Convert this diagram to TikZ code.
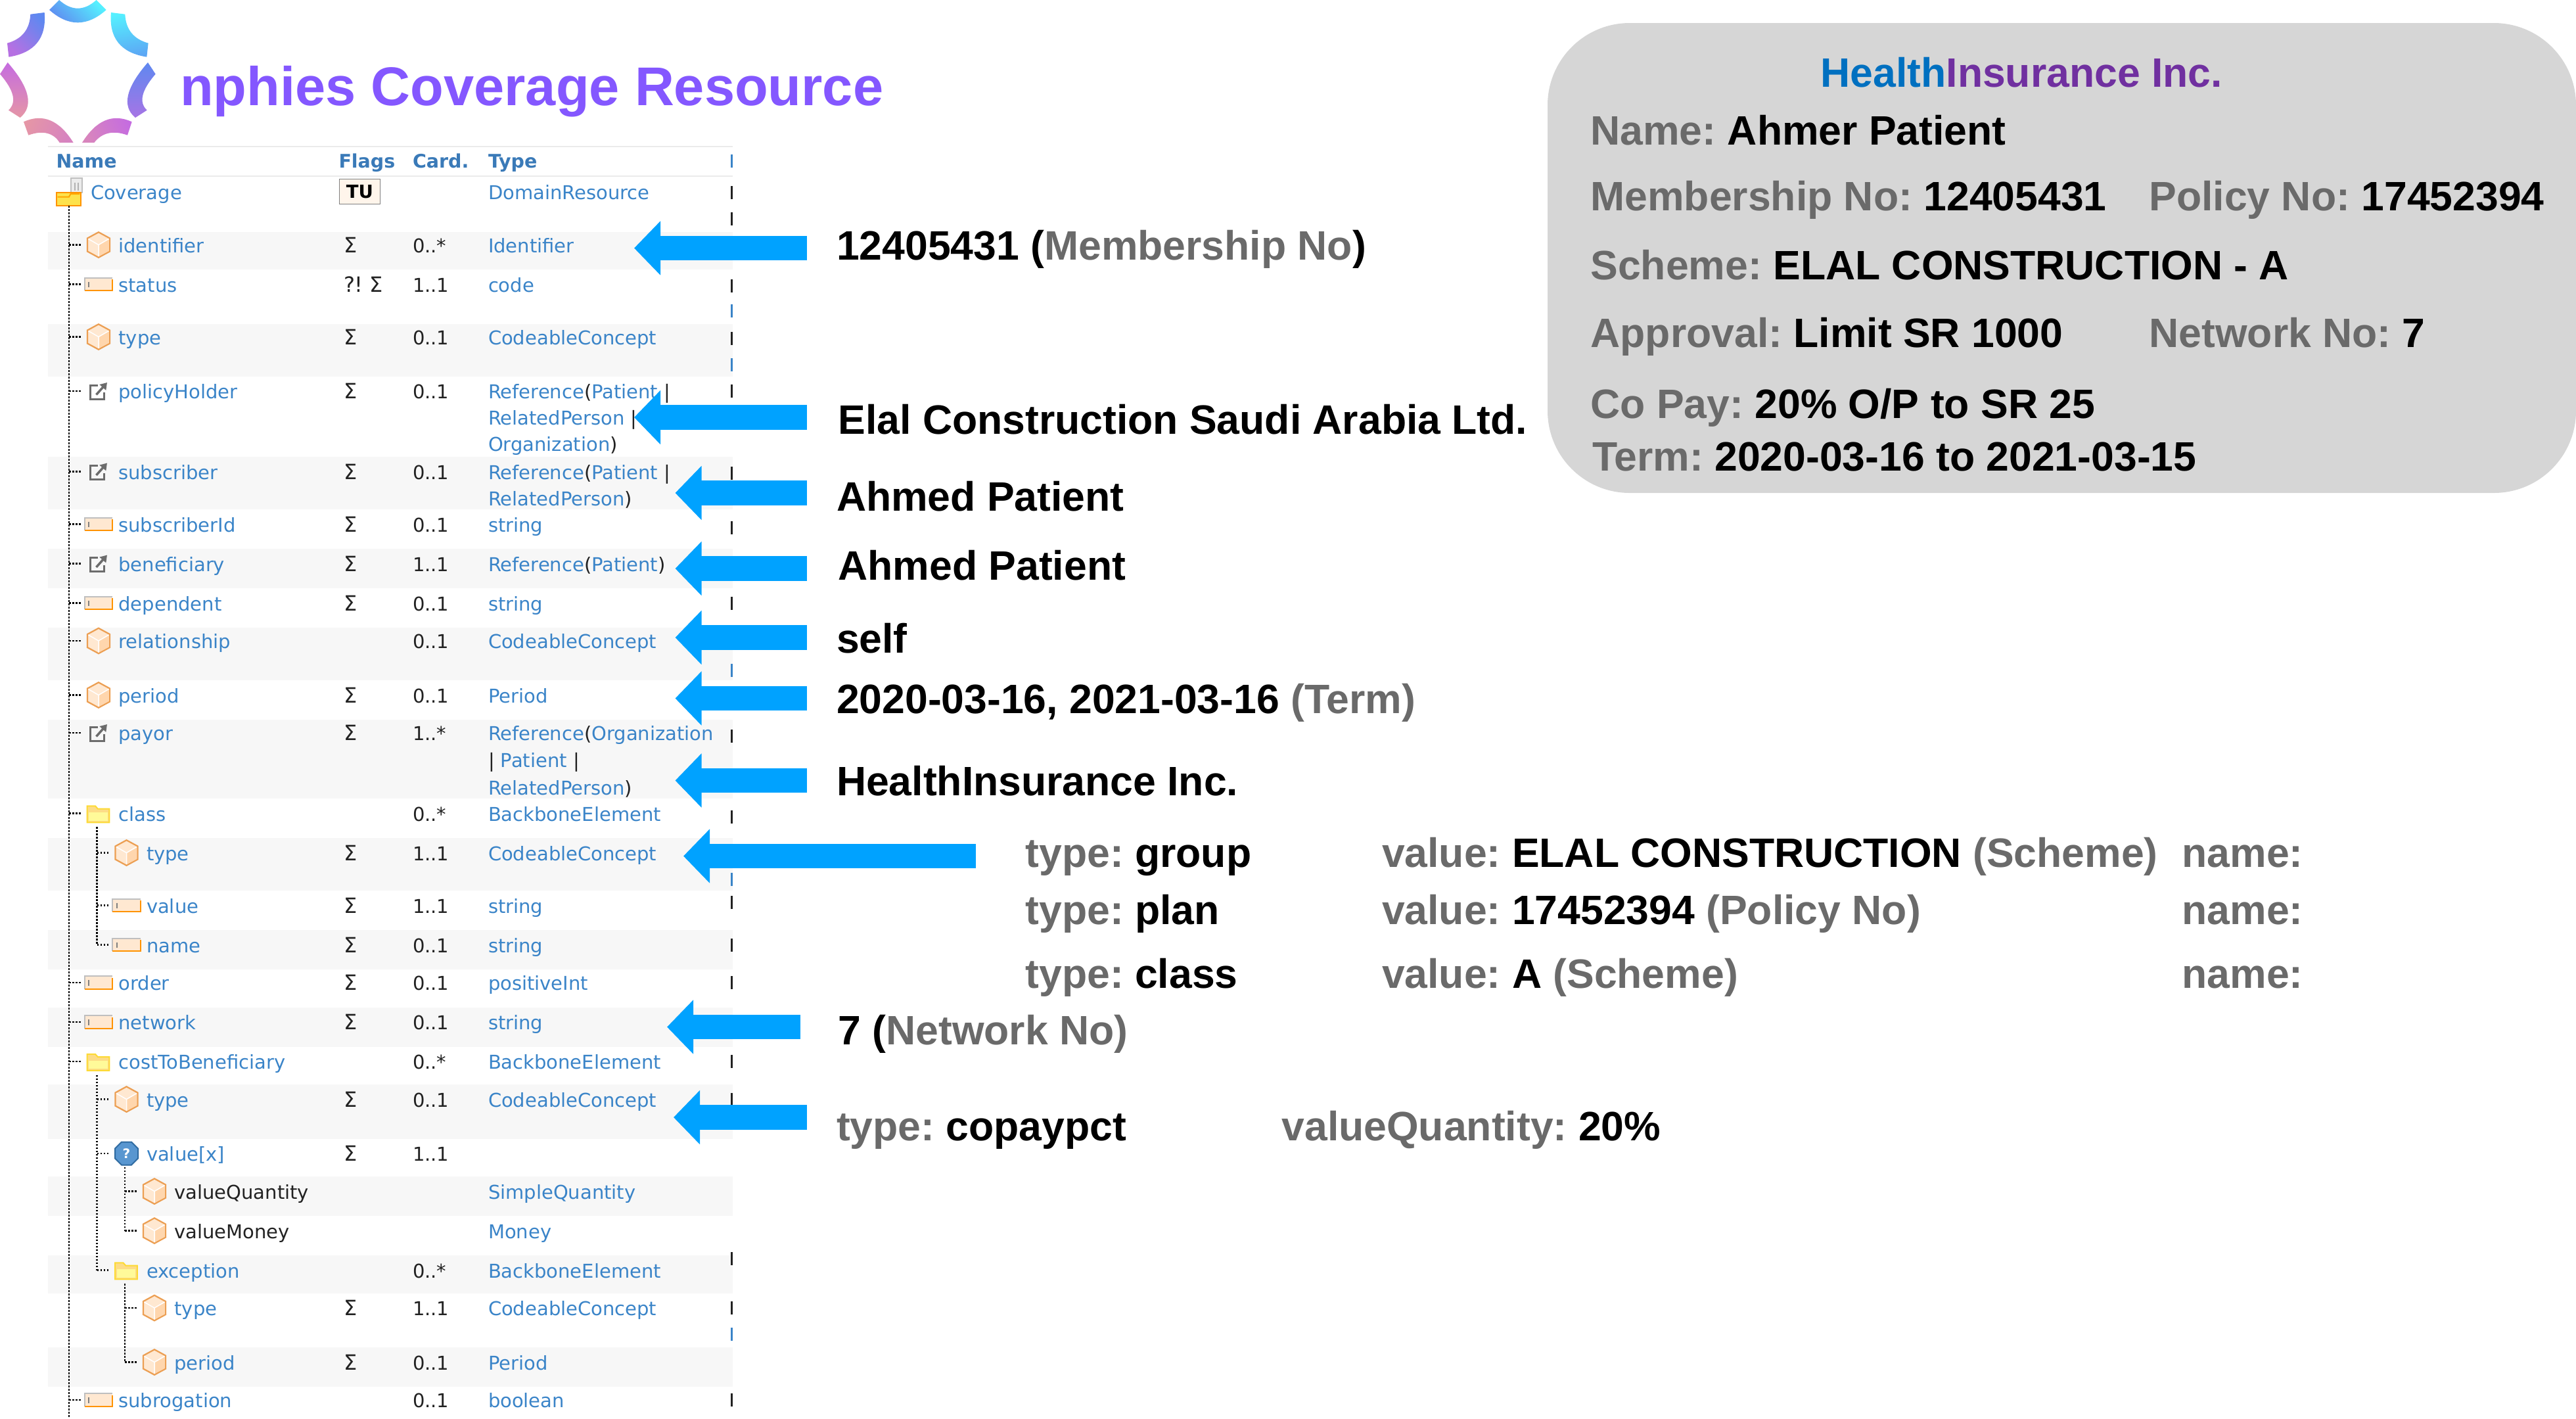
\documentclass[tikz,border=0pt]{standalone}
\usepackage{fontspec}
\setmainfont{Liberation Sans}
\newfontfamily\tablefont{DejaVu Sans}
\usetikzlibrary{arrows.meta}
\frenchspacing

\definecolor{linkblue}{HTML}{3A84C8}
\definecolor{headblue}{HTML}{3A7AB8}
\definecolor{textdark}{HTML}{222222}
\definecolor{labelgrey}{HTML}{6A6A6A}
\definecolor{arrowblue}{HTML}{00A2FF}
\definecolor{rowshade}{HTML}{F7F7F7}
\definecolor{cardgrey}{HTML}{D6D6D6}
\definecolor{logoCyan}{HTML}{55F0FF}
\definecolor{logoBlue}{HTML}{5F88F0}
\definecolor{logoViolet}{HTML}{C56CE0}
\definecolor{logoPink}{HTML}{E596A6}
\definecolor{titleviolet}{HTML}{8457FF}

\newcommand{\gl}[1]{\textcolor{labelgrey}{#1}}
\newcommand{\dk}[1]{\textcolor{textdark}{#1}}

\tikzset{
    bigtext/.style={anchor=base west, inner sep=0pt, font=\bfseries\fontsize{25}{25}\selectfont},
    celltext/.style={anchor=base west, inner sep=0pt, font=\tablefont\fontsize{11.6}{12}\selectfont},
    flagtext/.style={anchor=base west, inner sep=0pt, text=textdark, font=\tablefont\fontsize{12.8}{13}\selectfont},
    headtext/.style={anchor=base west, inner sep=0pt, text=headblue, font=\tablefont\bfseries\fontsize{11.4}{12}\selectfont},
    iconspot/.style={minimum width=20pt, minimum height=16pt, inner sep=0pt},
    treeline/.style={black, line width=.9pt, dash pattern=on 1pt off 1pt},
    blockarrow/.style={arrowblue, line width=15pt, -{Triangle[length=16pt,width=32pt]}},
    logoseg/.style={shade, draw=none},
    pics/cubeicon/.style={code={
        \fill[fill=orange!18!white, draw=orange!60!brown!75, line width=.9pt]
            (0,-7.7) -- (6.8,-4) -- (6.8,4) -- (0,7.7) -- (-6.8,4) -- (-6.8,-4) -- cycle;
        \fill[orange!32!white] (0,0) -- (6.2,-3.6) -- (6.2,3.8) -- (0,7) -- cycle;
        \draw[white, line width=.6pt] (-6.2,-3.6) -- (0,0) -- (6.2,-3.6) (0,0) -- (0,7);
    }},
    pics/primicon/.style={code={
        \fill[orange!18!white] (-8.5,-4.2) rectangle (8.5,4.2);
        \draw[gray!50, line width=.8pt] (-8.5,3.8) |- (8.5,-4);
        \draw[orange!85!yellow, line width=.9pt] (-8.5,3.9) -- (8.5,3.9) -- (8.5,-3);
        \draw[gray, line width=.8pt] (-6,-1.6) -- (-6,1.8);
    }},
    pics/foldericon/.style={code={
        \fill[yellow!45!orange!45!white, draw=yellow!70!orange!80, line width=.8pt]
            (-7,-4.5) -- (-2,-4.5) -- (-.5,-2.8) -- (6.5,-2.8) -- (6.5,5.5) -- (-7,5.5) -- cycle;
        \fill[yellow!40!white] (-6,-.6) rectangle (5.5,4.5);
    }},
    pics/rooticon/.style={code={
        \fill[gray!15, draw=gray!50, line width=.8pt] (1,-8.5) rectangle (8,0);
        \draw[gray!60, line width=.6pt] (3.5,-6) -- (3.5,-1) (5.5,-6) -- (5.5,-1);
        \fill[yellow!75!orange!70!white, draw=orange!85!yellow, line width=.8pt]
            (-7.5,0) rectangle (7,8);
        \draw[orange!70!yellow, line width=.8pt] (-7,2.8) -- (0,2.8) -- (1,1) -- (6.5,1);
    }},
    pics/refericon/.style={code={
        \draw[gray!85!black, line width=1.2pt] (-.5,-3.5) -- (-5,-3.5) -- (-5,4.8) -- (3.2,4.8) -- (3.2,.8);
        \draw[gray!85!black, line width=1.4pt, -{Triangle[length=4pt,width=5pt]}] (-1.4,2.2) -- (5.2,-5.2);
    }},
    pics/choiceicon/.style={code={
        \fill[fill=linkblue!85!white, draw=linkblue!80!black, line width=.8pt]
            (-3,-7) -- (3,-7) -- (7,-3) -- (7,3) -- (3,7) -- (-3,7) -- (-7,3) -- (-7,-3) -- cycle;
        \node[inner sep=0pt, text=white, font=\tablefont\bfseries\fontsize{8}{8}\selectfont] (-mark) at (0,0) {?};
    }},
}

\begin{document}
\begin{tikzpicture}[x=1pt, y=-1pt]
    \useasboundingbox (0,0) rectangle (1568,863.2);

    % logo
    \begin{scope}[scale=1/7.5]
        \path[logoseg, top color=logoCyan, bottom color=logoBlue, shading angle=-45]
            (270,0) .. controls (326.7,50.7) and (383.3,50.7) .. (440,0) -- (485,45)
            .. controls (398.3,122.3) and (311.7,122.3) .. (225,45) -- cycle;
        \path[logoseg, top color=logoCyan, bottom color=logoCyan!30!logoBlue, shading angle=10]
            (507,57) -- (571,65) .. controls (574.3,134.3) and (609.7,178.3) .. (677,197) -- (670,260)
            .. controls (551,241) and (496.7,173.3) .. (507,57) -- cycle;
        \path[logoseg, top color=logoBlue, bottom color=logoViolet!85!logoBlue, shading angle=-45]
            (203,57) -- (139,65) .. controls (135.7,134.3) and (100.3,178.3) .. (33,197) -- (40,260)
            .. controls (159,241) and (213.3,173.3) .. (203,57) -- cycle;
        \path[logoseg, top color=logoBlue, bottom color=logoViolet!70!logoBlue]
            (675,285) -- (710,338) .. controls (645.7,412.3) and (632.7,467.3) .. (671,503) -- (618,537)
            .. controls (555,485) and (574,401) .. (675,285) -- cycle;
        \path[logoseg, top color=logoViolet, bottom color=logoPink]
            (35,285) -- (0,338) .. controls (64.3,412.3) and (77.3,467.3) .. (39,503) -- (92,537)
            .. controls (155,485) and (136,401) .. (35,285) -- cycle;
        \path[logoseg, top color=logoViolet, bottom color=logoPink!60!logoViolet, shading angle=-70]
            (602,556) -- (582,617) .. controls (516.7,593.7) and (466,605) .. (430,651) -- (375,651)
            .. controls (439.3,548) and (515,516.3) .. (602,556) -- cycle;
        \path[logoseg, top color=logoPink, bottom color=logoPink!55!logoViolet, shading angle=70]
            (108,556) -- (130,617) .. controls (193,594) and (244,605) .. (272,651) -- (335,651)
            .. controls (270.7,548) and (195,516.3) .. (108,556) -- cycle;
    \end{scope}
    \node[anchor=base west, inner sep=0pt, text=titleviolet, font=\bfseries\fontsize{33.2}{33}\selectfont] (title) at (109.5,64)
        {nphies Coverage Resource};

    % shaded rows
    \foreach \ya/\yb in {141/164, 197/229, 278/310, 334/358, 382/414, 438/486, 510/542,
                         566/590, 613/637, 660/693, 716/740, 764/787, 820/844}
        \fill[rowshade] (29,\ya) rectangle (446,\yb);
    \draw[black!8, line width=.8pt] (29,89) -- (446,89) (29,107) -- (446,107);

    % cut off column at the right
    \foreach \my/\mc in {98/linkblue, 117/textdark, 133/textdark, 174/textdark, 189/linkblue,
                         206/textdark, 222/linkblue, 238/textdark, 288/textdark, 321/textdark,
                         367/textdark, 408/linkblue, 448/textdark, 497/textdark, 535/linkblue,
                         549/textdark, 575/textdark, 598/textdark, 646/textdark, 669/textdark,
                         766/textdark, 796/textdark, 812/linkblue, 852/textdark}
        \fill[\mc] (444.9,\my-4) rectangle (446,\my+4);

    % header
    \node[headtext] (headName) at (34,102) {Name};
    \node[headtext] (headFlags) at (206,102) {Flags};
    \node[headtext] (headCard) at (251,102) {Card.};
    \node[headtext] (headType) at (297,102) {Type};

    % root row
    \node[iconspot] (icoCoverage) at (42,117) {};
    \pic at (icoCoverage) {rooticon};
    \node[celltext, text=linkblue] (lblCoverage) at (55,121.3) {Coverage};
    \node[draw=gray, fill=orange!8!white, minimum width=25pt, minimum height=15pt, inner sep=0pt,
          font=\tablefont\bfseries\fontsize{11}{12}\selectfont] (flagCoverage) at (219,116.5) {TU};
    \node[celltext, text=linkblue] (typeCoverage) at (297,121.3) {DomainResource};

    % element rows
    \foreach \id/\ypos/\lvl/\icon/\lbl/\flag/\card/\tname in {
        identifier/149/1/cubeicon/identifier/Σ/0..*/Identifier,
        status/173/1/primicon/status/?! Σ/1..1/code,
        ctype/205/1/cubeicon/type/Σ/0..1/CodeableConcept,
        policyHolder/238/1/refericon/policyHolder/Σ/0..1/{Reference\dk{(}Patient \dk{|}},
        subscriber/287/1/refericon/subscriber/Σ/0..1/{Reference\dk{(}Patient \dk{|}},
        subscriberId/319/1/primicon/subscriberId/Σ/0..1/string,
        beneficiary/343/1/refericon/beneficiary/Σ/1..1/{Reference\dk{(}Patient\dk{)}},
        dependent/367/1/primicon/dependent/Σ/0..1/string,
        relationship/390/1/cubeicon/relationship//0..1/CodeableConcept,
        period/423/1/cubeicon/period/Σ/0..1/Period,
        payor/446/1/refericon/payor/Σ/1..*/{Reference\dk{(}Organization},
        class/495/1/foldericon/class//0..*/BackboneElement,
        classType/519/2/cubeicon/type/Σ/1..1/CodeableConcept,
        classValue/551/2/primicon/value/Σ/1..1/string,
        className/575/2/primicon/name/Σ/0..1/string,
        order/598/1/primicon/order/Σ/0..1/positiveInt,
        network/622/1/primicon/network/Σ/0..1/string,
        cost/646/1/foldericon/costToBeneficiary//0..*/BackboneElement,
        costType/669/2/cubeicon/type/Σ/0..1/CodeableConcept,
        costValue/702/2/choiceicon/value[x]/Σ/1..1/,
        valQuantity/725/3/cubeicon/\dk{valueQuantity}///SimpleQuantity,
        valMoney/749/3/cubeicon/\dk{valueMoney}///Money,
        exception/773/2/foldericon/exception//0..*/BackboneElement,
        excType/796/3/cubeicon/type/Σ/1..1/CodeableConcept,
        excPeriod/829/3/cubeicon/period/Σ/0..1/Period,
        subrogation/852/1/primicon/subrogation//0..1/boolean}
    {
        \node[iconspot] (ico\id) at ({43+17*\lvl},\ypos) {};
        \pic at (ico\id) {\icon};
        \coordinate (trk\id) at ({25+17*\lvl},\ypos);
        \draw[treeline] (trk\id) -- (ico\id.west);
        \node[celltext, text=linkblue] (lbl\id) at ({55+17*\lvl},\ypos+4.6) {\lbl};
        \node[flagtext] (flag\id) at (209,\ypos+4.6) {\flag};
        \node[celltext, text=textdark] (card\id) at (251,\ypos+4.6) {\card};
        \node[celltext, text=linkblue] (type\id) at (297,\ypos+4.6) {\tname};
    }

    % second lines of the type column
    \node[celltext, text=linkblue] (typeHolderB) at (297,258.6) {RelatedPerson \dk{|}};
    \node[celltext, text=linkblue] (typeHolderC) at (297,274.6) {Organization\dk{)}};
    \node[celltext, text=linkblue] (typeSubB) at (297,307.6) {RelatedPerson\dk{)}};
    \node[celltext, text=linkblue] (typePayorB) at (297,467) {\dk{|} Patient \dk{|}};
    \node[celltext, text=linkblue] (typePayorC) at (297,483.6) {RelatedPerson\dk{)}};

    % tree lines
    \coordinate (trunkEnd) at (42,863.2);
    \draw[treeline] (icoCoverage.south) -- (trunkEnd);
    \draw[treeline] (icoclass.south -| trkclassType) -- (trkclassName);
    \draw[treeline] (icocost.south -| trkcostType) -- (trkexception);
    \draw[treeline] (icocostValue.south -| trkvalQuantity) -- (trkvalMoney);
    \draw[treeline] (icoexception.south -| trkexcType) -- (trkexcPeriod);

    % values beside the table
    \node[bigtext] (lblIdent) at (509,158) {12405431 (\gl{Membership No})};
    \node[bigtext] (lblHolder) at (510,264) {Elal Construction Saudi Arabia Ltd.};
    \node[bigtext] (lblSub) at (509,311) {Ahmed Patient};
    \node[bigtext] (lblBen) at (510,353) {Ahmed Patient};
    \node[bigtext] (lblSelf) at (509,397.5) {self};
    \node[bigtext] (lblTerm) at (509,434) {2020-03-16, 2021-03-16 \gl{(Term)}};
    \node[bigtext] (lblPayor) at (509,484) {HealthInsurance Inc.};
    \node[bigtext] (lblGroup) at (624,527.7) {\gl{type:} group};
    \node[bigtext] (lblGroupVal) at (841,527.7) {\gl{value:} ELAL CONSTRUCTION \gl{(Scheme)}};
    \node[bigtext] (lblGroupName) at (1328,527.7) {\gl{name:}};
    \node[bigtext] (lblPlan) at (624,562.7) {\gl{type:} plan};
    \node[bigtext] (lblPlanVal) at (841,562.7) {\gl{value:} 17452394 \gl{(Policy No)}};
    \node[bigtext] (lblPlanName) at (1328,562.7) {\gl{name:}};
    \node[bigtext] (lblClass) at (624,601.4) {\gl{type:} class};
    \node[bigtext] (lblClassVal) at (841,601.4) {\gl{value:} A \gl{(Scheme)}};
    \node[bigtext] (lblClassName) at (1328,601.4) {\gl{name:}};
    \node[bigtext] (lblNetwork) at (510,635.6) {7 (\gl{Network No)}};
    \node[bigtext] (lblCopay) at (509,694.3) {\gl{type:} copaypct};
    \node[bigtext] (lblQuantity) at (780,694.3) {\gl{valueQuantity:} 20\%};

    % arrows
    \foreach \src/\tipx/\tipy/\gap in {lblIdent/386/151/18, lblHolder/386/254/19, lblSub/411/300/18,
                                       lblBen/411/346/19, lblSelf/411/388/18, lblTerm/411/425/18,
                                       lblPayor/411/475/18, lblGroup/416/521/30,
                                       lblNetwork/406/625/23, lblCopay/410/680/18}
    {
        \coordinate (tip\src) at (\tipx,\tipy);
        \draw[blockarrow, shorten <=\gap pt] (\src.west |- tip\src) -- (tip\src);
    }

    % card
    \node[fill=cardgrey, rounded corners=50pt, minimum width=626pt, minimum height=286pt, inner sep=0pt] (card) at (1255,157) {};
    \node[anchor=base, inner sep=0pt, font=\bfseries\fontsize{25}{25}\selectfont] (cardTitle) at (1230.5,53)
        {\textcolor[HTML]{0070C0}{Health}\textcolor[HTML]{7030A0}{Insurance Inc.}};
    \node[bigtext] (cardName) at (968,88.2) {\gl{Name:} Ahmer Patient};
    \node[bigtext] (cardMember) at (968,128.2) {\gl{Membership No:} 12405431};
    \node[bigtext] (cardPolicy) at (1308,128.2) {\gl{Policy No:} 17452394};
    \node[bigtext] (cardScheme) at (968,170.2) {\gl{Scheme:} ELAL CONSTRUCTION - A};
    \node[bigtext] (cardApproval) at (968,211.2) {\gl{Approval:} Limit SR 1000};
    \node[bigtext] (cardNetwork) at (1308,211.2) {\gl{Network No:} 7};
    \node[bigtext] (cardCopay) at (968,254.6) {\gl{Co Pay:} 20\% O/P to SR 25};
    \node[bigtext] (cardTerm) at (969,286.6) {\gl{Term:} 2020-03-16 to 2021-03-15};
\end{tikzpicture}
\end{document}
